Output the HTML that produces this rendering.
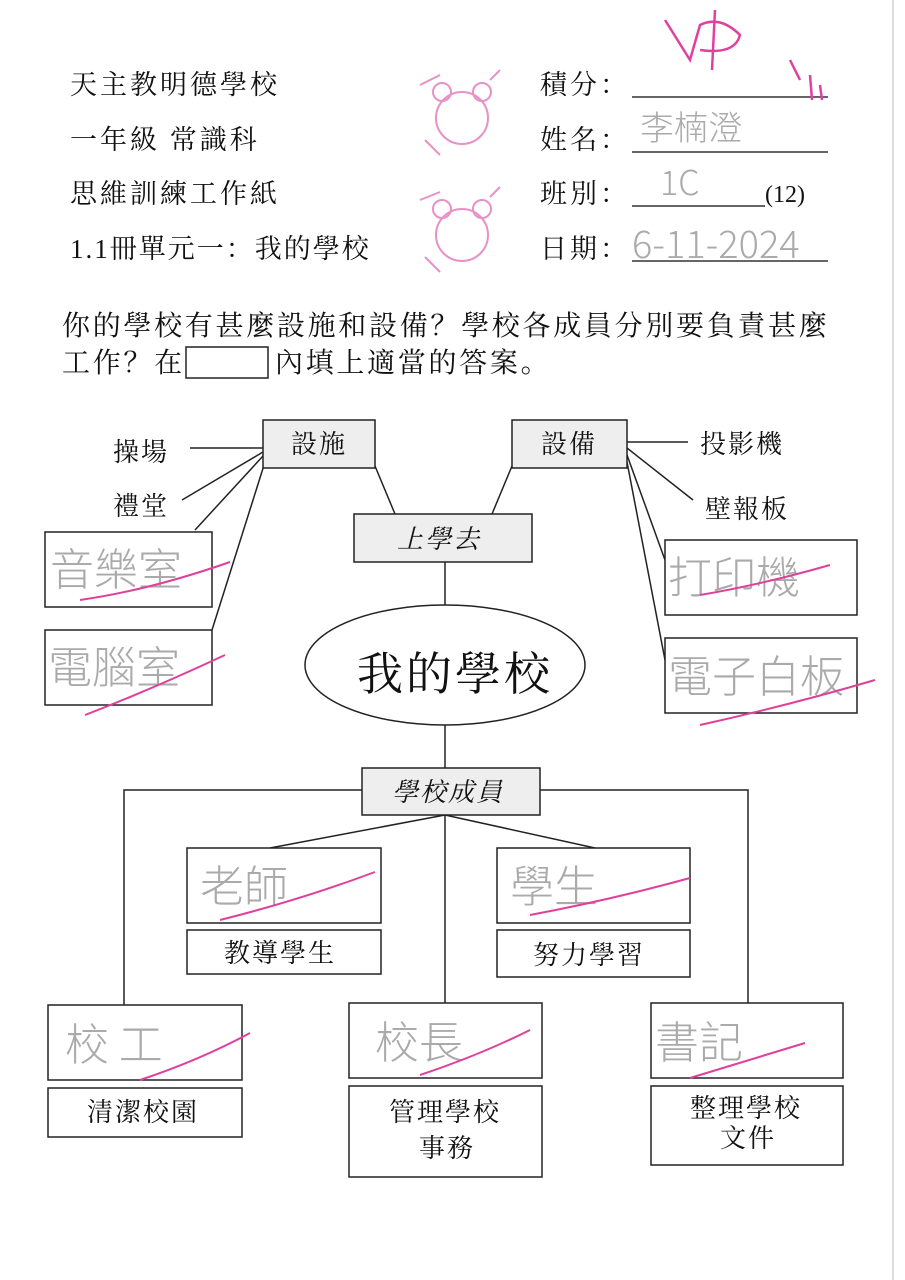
<!DOCTYPE html>
<html><head><meta charset="utf-8"><style>
html,body{margin:0;padding:0;background:#fff;}
svg{display:block;}
text{font-family:"Liberation Serif","Noto Serif CJK SC","Noto Sans CJK TC",serif;fill:#111;}
.hw{font-family:"Noto Sans CJK TC",sans-serif;fill:#aaa;font-weight:300;letter-spacing:0;}
</style></head><body>
<svg width="905" height="1280" viewBox="0 0 905 1280" xmlns="http://www.w3.org/2000/svg">
<rect width="905" height="1280" fill="#fff"/>
<line x1="893" y1="0" x2="893" y2="1280" stroke="#ddd" stroke-width="2"/>
<g font-size="27" letter-spacing="3">
<text x="70" y="94">天主教明德學校</text>
<text x="70" y="149">一年級 常識科</text>
<text x="70" y="203">思維訓練工作紙</text>
<text x="70" y="258" letter-spacing="2">1.1冊單元一：我的學校</text>
<text x="540" y="94">積分：</text>
<text x="540" y="149">姓名：</text>
<text x="540" y="203">班別：</text>
<text x="540" y="258">日期：</text>
</g>
<text x="765" y="202" font-size="24">(12)</text>
<g stroke="#333" stroke-width="1.5">
<line x1="632" y1="97" x2="828" y2="97"/>
<line x1="632" y1="152" x2="828" y2="152"/>
<line x1="632" y1="206" x2="765" y2="206"/>
<line x1="632" y1="261" x2="828" y2="261"/>
</g>
<g class="hw" font-size="34">
<text class="hw" x="640" y="140" fill="#999">李楠澄</text>
<text class="hw" x="660" y="195" fill="#999">1C</text>
<text class="hw" x="632" y="258" fill="#999" font-size="38">6-11-2024</text>
</g>
<g fill="none" stroke="#e040a0" stroke-width="2.5">
<path d="M665 20 L690 60 L700 25 Q720 15 740 35 Q735 55 700 50 M715 10 L712 70"/>
<path d="M790 60 L800 80 M810 75 L812 100 M820 85 L822 100"/>
</g>
<g fill="none" stroke="#e890c8" stroke-width="2">
<circle cx="462" cy="118" r="26"/><circle cx="442" cy="92" r="9"/><circle cx="482" cy="92" r="9"/>
<path d="M420 85 L440 75 M425 140 L440 155 M490 80 L500 70"/>
<circle cx="462" cy="235" r="26"/><circle cx="442" cy="209" r="9"/><circle cx="482" cy="209" r="9"/>
<path d="M420 200 L440 192 M425 257 L440 272 M490 197 L500 187"/>
</g>
<g font-size="28" letter-spacing="2.7">
<text x="62" y="335">你的學校有甚麼設施和設備？學校各成員分別要負責甚麼</text>
<text x="62" y="372">工作？在</text>
<text x="275" y="372">內填上適當的答案。</text>
</g>
<rect x="186" y="347" width="82" height="31" fill="none" stroke="#222" stroke-width="1.5"/>

<g stroke="#222" stroke-width="1.5" fill="none">
<line x1="190" y1="448" x2="263" y2="448"/>
<line x1="182" y1="500" x2="263" y2="452"/>
<line x1="195" y1="530" x2="263" y2="456"/>
<line x1="212" y1="630" x2="265" y2="462"/>
<line x1="375" y1="466" x2="395" y2="514"/>
<line x1="512" y1="466" x2="492" y2="514"/>
<line x1="627" y1="442" x2="688" y2="442"/>
<line x1="627" y1="448" x2="693" y2="500"/>
<line x1="627" y1="455" x2="665" y2="560"/>
<line x1="627" y1="462" x2="665" y2="660"/>
<line x1="445" y1="562" x2="445" y2="605"/>
<line x1="445" y1="725" x2="445" y2="768"/>
<polyline points="362,790 124,790 124,1005"/>
<polyline points="540,790 748,790 748,1003"/>
<line x1="445" y1="815" x2="270" y2="848"/>
<line x1="445" y1="815" x2="595" y2="848"/>
<line x1="445" y1="815" x2="445" y2="1003"/>
</g>
<g stroke="#222" stroke-width="1.5" fill="#eee">
<rect x="263" y="420" width="112" height="48"/>
<rect x="512" y="420" width="115" height="48"/>
<rect x="354" y="514" width="178" height="48"/>
<rect x="362" y="768" width="178" height="47"/>
</g>
<g stroke="#222" stroke-width="1.5" fill="#fff">
<ellipse cx="445" cy="665" rx="140" ry="60"/>
<rect x="45" y="532" width="167" height="75"/>
<rect x="45" y="630" width="167" height="75"/>
<rect x="665" y="540" width="192" height="75"/>
<rect x="665" y="638" width="192" height="75"/>
<rect x="187" y="848" width="194" height="75"/>
<rect x="187" y="930" width="194" height="44"/>
<rect x="497" y="848" width="193" height="75"/>
<rect x="497" y="930" width="193" height="47"/>
<rect x="48" y="1005" width="194" height="75"/>
<rect x="48" y="1088" width="194" height="49"/>
<rect x="349" y="1003" width="193" height="75"/>
<rect x="349" y="1086" width="193" height="91"/>
<rect x="651" y="1003" width="192" height="75"/>
<rect x="651" y="1086" width="192" height="79"/>
</g>
<g font-size="26" letter-spacing="2">
<text x="291" y="453">設施</text>
<text x="541" y="453">設備</text>
<text x="113" y="461">操場</text>
<text x="113" y="515">禮堂</text>
<text x="700" y="453">投影機</text>
<text x="705" y="518">壁報板</text>
<text x="397" y="548" font-style="italic">上學去</text>
<text x="392" y="801" font-style="italic">學校成員</text>
<text x="357" y="690" font-size="46" letter-spacing="3">我的學校</text>
<text x="224" y="962">教導學生</text>
<text x="533" y="964">努力學習</text>
<text x="87" y="1121">清潔校園</text>
<text x="389" y="1121">管理學校</text>
<text x="419" y="1157">事務</text>
<text x="690" y="1117">整理學校</text>
<text x="720" y="1147">文件</text>
</g>
<g class="hw" font-size="44">
<text class="hw" x="50" y="585">音樂室</text>
<text class="hw" x="48" y="683">電腦室</text>
<text class="hw" x="668" y="593">打印機</text>
<text class="hw" x="668" y="692">電子白板</text>
<text class="hw" x="200" y="902">老師</text>
<text class="hw" x="510" y="902">學生</text>
<text class="hw" x="65" y="1060">校 工</text>
<text class="hw" x="375" y="1058">校長</text>
<text class="hw" x="655" y="1058">書記</text>
</g>
<g fill="none" stroke="#e0409a" stroke-width="2">
<path d="M80 600 Q150 590 230 562"/>
<path d="M85 715 Q150 690 225 655"/>
<path d="M700 595 Q760 585 830 565"/>
<path d="M700 725 Q790 705 875 680"/>
<path d="M220 920 Q300 900 375 872"/>
<path d="M530 915 Q610 900 690 878"/>
<path d="M140 1080 Q200 1060 250 1033"/>
<path d="M420 1075 Q480 1055 530 1030"/>
<path d="M690 1078 Q750 1060 805 1043"/>
</g>
</svg>
</body></html>
